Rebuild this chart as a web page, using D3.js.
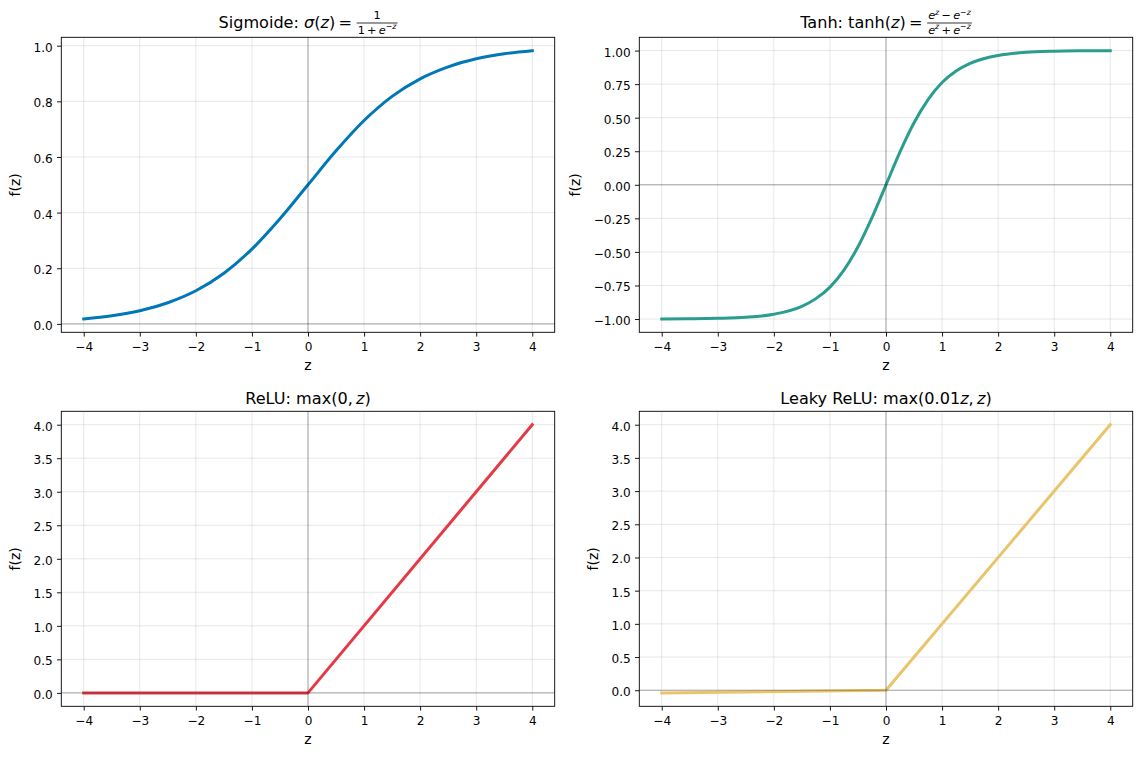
<!DOCTYPE html>
<html>
<head>
<meta charset="utf-8">
<script src="https://cdn.jsdelivr.net/npm/d3@7"></script>
<style>
  body { margin: 0; background: #fff; }
  svg text { font-family: "DejaVu Sans", sans-serif; fill: #000; }
</style>
</head>
<body>
<svg id="chart" width="1142" height="758"></svg>
<script>
// values
var xTicks = [-4, -3, -2, -1, 0, 1, 2, 3, 4];

var sigmoidZ = [-4, -3.5, -3, -2.5, -2, -1.5, -1, -0.5, 0, 0.5, 1, 1.5, 2, 2.5, 3, 3.5, 4];
var sigmoidY = [0.018, 0.029, 0.047, 0.076, 0.119, 0.182, 0.269, 0.378, 0.5, 0.622, 0.731, 0.818, 0.881, 0.924, 0.953, 0.971, 0.982];
var sigmoidTicks = [0, 0.2, 0.4, 0.6, 0.8, 1.0];

var tanhZ = [-4, -3.5, -3, -2.5, -2, -1.5, -1.25, -1, -0.75, -0.5, -0.25, 0, 0.25, 0.5, 0.75, 1, 1.25, 1.5, 2, 2.5, 3, 3.5, 4];
var tanhY = [-0.999, -0.998, -0.995, -0.987, -0.964, -0.905, -0.848, -0.762, -0.635, -0.462, -0.245, 0, 0.245, 0.462, 0.635, 0.762, 0.848, 0.905, 0.964, 0.987, 0.995, 0.998, 0.999];
var tanhTicks = [-1, -0.75, -0.5, -0.25, 0, 0.25, 0.5, 0.75, 1];

var reluZ = [-4, 0, 4];
var reluY = [0, 0, 4];
var reluTicks = [0, 0.5, 1, 1.5, 2, 2.5, 3, 3.5, 4];

var leakyZ = [-4, 0, 4];
var leakyY = [-0.04, 0, 4];
var leakyTicks = [0, 0.5, 1, 1.5, 2, 2.5, 3, 3.5, 4];

// title pieces: [text, italic, superscript]
var sigmoidTitle = {
  main: [["Sigmoide: ", 0], ["σ", 1], ["(", 0], ["z", 1], [")\u2009=\u2009", 0]],
  num: [["1", 0]],
  den: [["1\u2009+\u2009", 0], ["e", 1], ["−", 0, 1], ["z", 1, 1]]
};
var tanhTitle = {
  main: [["Tanh: tanh(", 0], ["z", 1], [")\u2009=\u2009", 0]],
  num: [["e", 1], ["z", 1, 1], ["\u2009−\u2009", 0], ["e", 1], ["−", 0, 1], ["z", 1, 1]],
  den: [["e", 1], ["z", 1, 1], ["\u2009+\u2009", 0], ["e", 1], ["−", 0, 1], ["z", 1, 1]]
};
var reluTitle = { main: [["ReLU: max(0,\u2009", 0], ["z", 1], [")", 0]] };
var leakyTitle = { main: [["Leaky ReLU: max(0.01", 0], ["z", 1], [",\u2009", 0], ["z", 1], [")", 0]] };

var FS_TICK = 12.1, FS_LABEL = 14, FS_TITLE = 16.1;
var lefts = [61.3, 639.3], tops = [37.3, 411.3];
var W = 493.4, H = 295;
var TICK = 4.3;

var panels = [
  {title: sigmoidTitle, z: sigmoidZ, y: sigmoidY, ticks: sigmoidTicks, fmt: ".1f", color: "#0077b6", curve: d3.curveMonotoneX, col: 0, row: 0},
  {title: tanhTitle, z: tanhZ, y: tanhY, ticks: tanhTicks, fmt: ".2f", color: "#2a9d8f", curve: d3.curveMonotoneX, col: 1, row: 0},
  {title: reluTitle, z: reluZ, y: reluY, ticks: reluTicks, fmt: ".1f", color: "#e63946", curve: d3.curveLinear, col: 0, row: 1},
  {title: leakyTitle, z: leakyZ, y: leakyY, ticks: leakyTicks, fmt: ".1f", color: "#e9c46a", curve: d3.curveLinear, col: 1, row: 1}
];

var svg = d3.select("#chart");

function padded(ext) {
  var m = (ext[1] - ext[0]) * 0.05;
  return [ext[0] - m, ext[1] + m];
}

function addPieces(text, pieces, fs) {
  var shifted = false, sh = fs * 0.42;
  pieces.forEach(function(pc) {
    var sup = !!pc[2];
    var t = text.append("tspan").text(pc[0])
      .attr("font-style", pc[1] ? "italic" : "normal")
      .attr("font-size", sup ? fs * 0.7 : fs);
    if (sup && !shifted) { t.attr("dy", -sh); shifted = true; }
    else if (!sup && shifted) { t.attr("dy", sh); shifted = false; }
  });
}

function drawTitle(spec, cx, top) {
  var g = svg.append("g");
  var main = g.append("text").attr("font-size", FS_TITLE).style("white-space", "pre");
  addPieces(main, spec.main, FS_TITLE);
  var total = main.node().getComputedTextLength();
  if (spec.num) {
    var fs = FS_TITLE * 0.7;
    var num = g.append("text").attr("font-size", fs).attr("text-anchor", "middle").style("white-space", "pre");
    addPieces(num, spec.num, fs);
    var den = g.append("text").attr("font-size", fs).attr("text-anchor", "middle").style("white-space", "pre");
    addPieces(den, spec.den, fs);
    var fw = Math.max(num.node().getComputedTextLength(), den.node().getComputedTextLength()) + 2;
    var bx = total + 1.5, by = -5.3;
    num.attr("x", bx + fw / 2).attr("y", by - 3.6);
    den.attr("x", bx + fw / 2).attr("y", by + 10.8);
    g.append("line").attr("x1", bx).attr("x2", bx + fw).attr("y1", by).attr("y2", by)
      .attr("stroke", "#000").attr("stroke-width", 0.8);
    total = bx + fw;
  }
  var base = spec.num ? top - 9 : top - 7.3;
  g.attr("transform", "translate(" + (cx - total / 2) + "," + base + ")");
}

panels.forEach(function(p) {
  var left = lefts[p.col], top = tops[p.row];
  var g = svg.append("g").attr("transform", "translate(" + left + "," + top + ")");

  var x = d3.scaleLinear().domain(padded(d3.extent(p.z))).range([0, W]);
  var y = d3.scaleLinear().domain(padded(d3.extent(p.y))).range([H, 0]);

  //grid
  var grid = g.append("g").attr("stroke", "#b0b0b0").attr("stroke-opacity", 0.3).attr("stroke-width", 1);
  grid.selectAll(".gx").data(xTicks).enter().append("line")
    .attr("x1", function(d) { return x(d); }).attr("x2", function(d) { return x(d); })
    .attr("y1", 0).attr("y2", H);
  grid.selectAll(".gy").data(p.ticks).enter().append("line")
    .attr("y1", function(d) { return y(d); }).attr("y2", function(d) { return y(d); })
    .attr("x1", 0).attr("x2", W);

  //curve
  var pts = p.z.map(function(z, i) { return [z, p.y[i]]; });
  g.append("path").datum(pts)
    .attr("d", d3.line().x(function(d) { return x(d[0]); }).y(function(d) { return y(d[1]); }).curve(p.curve))
    .attr("fill", "none").attr("stroke", p.color).attr("stroke-width", 3)
    .attr("stroke-linecap", "square").attr("stroke-linejoin", "round");

  //zero lines
  g.append("line").attr("x1", 0).attr("x2", W).attr("y1", y(0)).attr("y2", y(0))
    .attr("stroke", "#000").attr("stroke-opacity", 0.4).attr("stroke-width", 0.8);
  g.append("line").attr("x1", x(0)).attr("x2", x(0)).attr("y1", 0).attr("y2", H)
    .attr("stroke", "#000").attr("stroke-opacity", 0.4).attr("stroke-width", 0.8);

  //axes
  var xa = g.append("g").attr("transform", "translate(0," + H + ")")
    .call(d3.axisBottom(x).tickValues(xTicks).tickSize(TICK).tickPadding(6.3).tickFormat(d3.format("d")));
  var ya = g.append("g")
    .call(d3.axisLeft(y).tickValues(p.ticks).tickSize(TICK).tickPadding(TICK).tickFormat(d3.format(p.fmt)));
  [xa, ya].forEach(function(a) {
    a.select(".domain").remove();
    a.attr("font-family", null).attr("font-size", FS_TICK);
    a.selectAll("line").attr("stroke", "#000").attr("stroke-width", 0.9);
  });
  ya.selectAll("text").attr("dy", "0.45em");

  var maxW = 0;
  ya.selectAll("text").each(function() { maxW = Math.max(maxW, this.getComputedTextLength()); });

  //spines
  g.append("rect").attr("width", W).attr("height", H)
    .attr("fill", "none").attr("stroke", "#000").attr("stroke-width", 0.9);

  //labels
  g.append("text").attr("x", W / 2).attr("y", H + 38).attr("text-anchor", "middle")
    .attr("font-size", FS_LABEL).text("z");
  var lx = -TICK * 2 - maxW - 13.5;
  g.append("text").attr("transform", "translate(" + lx + "," + (H / 2) + ") rotate(-90)")
    .attr("text-anchor", "middle").attr("font-size", FS_LABEL).text("f(z)");

  drawTitle(p.title, left + W / 2, top);
});
</script>
</body>
</html>
